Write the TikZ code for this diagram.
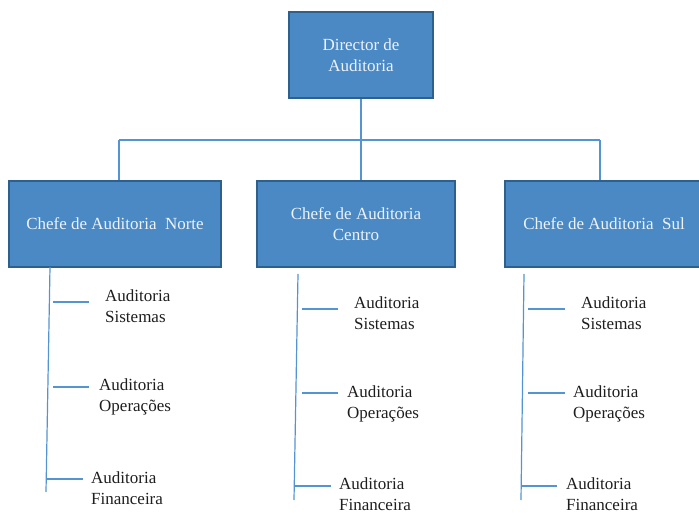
\documentclass[tikz,border=0pt]{standalone}
\usepackage{fontspec}
\setmainfont{Liberation Serif}
\usetikzlibrary{positioning}
\definecolor{boxfill}{RGB}{74,137,196}
\definecolor{boxline}{RGB}{46,96,141}
\definecolor{boxtext}{RGB}{236,242,248}
\definecolor{linecol}{RGB}{84,148,210}
\definecolor{labtext}{RGB}{30,30,30}

\begin{document}
\begin{tikzpicture}[x=1pt, y=-1pt,
  chief/.style={rectangle, draw=boxline, fill=boxfill, line width=1.6pt,
                text=boxtext, font=\fontsize{17}{21}\selectfont, align=center,
                minimum height=86pt, inner sep=0pt},
  unit/.style={font=\fontsize{17}{21}\selectfont, text=labtext, align=left,
               inner sep=0pt, anchor=west},
  ln/.style={draw=linecol, line width=1.2pt}
]
\useasboundingbox (0,0) rectangle (699,513);

\node[chief, minimum width=144pt] (dir)    at (361,55)  {Director de\\Auditoria};
\node[chief, minimum width=212pt] (norte)  at (115,224) {Chefe de Auditoria\ \ Norte};
\node[chief, minimum width=198pt] (centro) at (356,224) {Chefe de Auditoria\\Centro};
\node[chief, minimum width=198pt] (sul)    at (604,224) {Chefe de Auditoria\ \ Sul};

% barra de ligacao
\coordinate (bus)  at (361,140);
\coordinate (busl) at (119,140);
\coordinate (busr) at (600,140);
\draw[ln] (dir.south) -- (bus);
\draw[ln] (busl) -- (busr);
\draw[ln] (busl) -- (busl |- norte.north);
\draw[ln] (bus) -- (bus |- centro.north);
\draw[ln] (busr) -- (busr |- sul.north);

% Norte
\node[unit] (ns) at (105,306) {Auditoria\\Sistemas};
\node[unit] (no) at (99,397)  {Auditoria\\Operações};
\node[unit] (nf) at (91,488)  {Auditoria\\Financeira};
\coordinate (nt) at (50,267);  \coordinate (nb) at (46,492);
\draw[ln] (nt) -- (nb);
\coordinate (ns0) at (53,302); \coordinate (ns1) at (89,302);
\coordinate (no0) at (53,387); \coordinate (no1) at (89,387);
\coordinate (nf0) at (46,479); \coordinate (nf1) at (83,479);
\draw[ln] (ns0) -- (ns1);
\draw[ln] (no0) -- (no1);
\draw[ln] (nf0) -- (nf1);

% Centro
\node[unit] (cs) at (354,313) {Auditoria\\Sistemas};
\node[unit] (co) at (347,404) {Auditoria\\Operações};
\node[unit] (cf) at (339,494) {Auditoria\\Financeira};
\coordinate (ct) at (298,274); \coordinate (cb) at (294,500);
\draw[ln] (ct) -- (cb);
\coordinate (cs0) at (302,309); \coordinate (cs1) at (338,309);
\coordinate (co0) at (302,393); \coordinate (co1) at (338,393);
\coordinate (cf0) at (294,486); \coordinate (cf1) at (331,486);
\draw[ln] (cs0) -- (cs1);
\draw[ln] (co0) -- (co1);
\draw[ln] (cf0) -- (cf1);

% Sul
\node[unit] (ss) at (581,313) {Auditoria\\Sistemas};
\node[unit] (so) at (573,404) {Auditoria\\Operações};
\node[unit] (sf) at (566,494) {Auditoria\\Financeira};
\coordinate (st) at (524,274); \coordinate (sb) at (521,500);
\draw[ln] (st) -- (sb);
\coordinate (ss0) at (528,309); \coordinate (ss1) at (565,309);
\coordinate (so0) at (528,393); \coordinate (so1) at (565,393);
\coordinate (sf0) at (521,486); \coordinate (sf1) at (557,486);
\draw[ln] (ss0) -- (ss1);
\draw[ln] (so0) -- (so1);
\draw[ln] (sf0) -- (sf1);

\end{tikzpicture}
\end{document}
